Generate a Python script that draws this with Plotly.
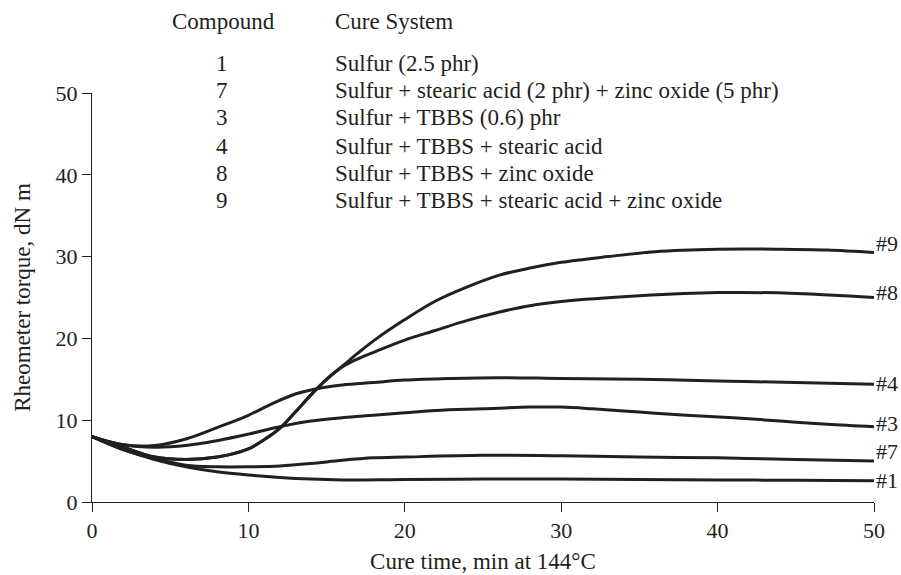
import plotly.graph_objects as go

# Cure time (min) sample points and rheometer torque (dN m) for each compound
t1 = [0, 2, 4, 6, 8, 10, 12, 14, 16, 20, 25, 30, 35, 40, 45, 50]
c1 = [8.0, 6.4, 5.2, 4.3, 3.7, 3.3, 3.0, 2.8, 2.7, 2.75, 2.8, 2.8, 2.75, 2.7, 2.65, 2.6]

t7 = [0, 2, 4, 6, 8, 10, 12, 14, 16, 18, 20, 25, 30, 35, 40, 45, 50]
c7 = [8.0, 6.4, 5.3, 4.5, 4.3, 4.3, 4.4, 4.7, 5.1, 5.4, 5.5, 5.7, 5.65, 5.5, 5.4, 5.2, 5.0]

t3 = [0, 2, 4, 6, 8, 10, 12, 14, 16, 18, 20, 22, 25, 28, 30, 32, 35, 38, 41, 44, 47, 50]
c3 = [8.0, 7.0, 6.7, 6.9, 7.5, 8.3, 9.2, 9.9, 10.3, 10.6, 10.9, 11.2, 11.4, 11.6, 11.6, 11.4,
      11.0, 10.6, 10.3, 9.9, 9.5, 9.2]

t4 = [0, 2, 4, 6, 8, 10, 11.5, 13, 14, 16, 18, 20, 23, 26, 30, 35, 40, 45, 50]
c4 = [8.0, 7.0, 6.9, 7.7, 9.1, 10.6, 12.0, 13.2, 13.7, 14.3, 14.6, 14.9, 15.1, 15.2, 15.1,
      15.0, 14.8, 14.6, 14.4]

t8 = [0, 2, 4, 6, 8, 10, 11, 12, 13, 14, 15, 16, 17, 18, 20, 22, 24, 26, 28, 30, 35, 40, 45, 50]
c8 = [8.0, 6.7, 5.5, 5.2, 5.5, 6.5, 7.6, 9.0, 11.0, 13.1, 15.0, 16.5, 17.5, 18.3, 19.8, 21.0,
      22.2, 23.2, 24.0, 24.5, 25.2, 25.6, 25.5, 25.0]

t9 = [0, 2, 4, 6, 8, 10, 11, 12, 13, 14, 15, 16, 17, 18, 20, 22, 24, 26, 28, 30, 33, 36, 40, 44, 47, 50]
c9 = [8.0, 6.7, 5.5, 5.2, 5.5, 6.5, 7.6, 9.0, 11.0, 13.1, 15.0, 16.6, 18.2, 19.7, 22.3, 24.6,
      26.3, 27.7, 28.6, 29.3, 30.0, 30.6, 30.9, 30.9, 30.8, 30.5]

series = [("#1", t1, c1), ("#7", t7, c7), ("#3", t3, c3),
          ("#4", t4, c4), ("#8", t8, c8), ("#9", t9, c9)]

# Where each end-of-curve tag sits (torque units)
end_tags = ["#9", "#8", "#4", "#3", "#7", "#1"]
end_tag_y = [31.6, 25.6, 14.5, 9.6, 6.2, 2.66]

# Key of compounds and their cure systems
compounds = ["1", "7", "3", "4", "8", "9"]
cure_systems = [
    "Sulfur (2.5 phr)",
    "Sulfur + stearic acid (2 phr) + zinc oxide (5 phr)",
    "Sulfur + TBBS (0.6) phr",
    "Sulfur + TBBS + stearic acid",
    "Sulfur + TBBS + zinc oxide",
    "Sulfur + TBBS + stearic acid + zinc oxide",
]

INK = "#231f20"
FONT = "'Liberation Serif', 'DejaVu Serif', serif"
FS_KEY = 23
FS_TICK = 22
FS_TITLE = 23
FS_TAG = 22

fig = go.Figure()
for name, t, c in series:
    fig.add_trace(go.Scatter(
        x=t, y=c, mode="lines", name=name,
        line=dict(color=INK, width=3, shape="spline", smoothing=1.0),
        showlegend=False, hoverinfo="skip",
    ))

ann = []
for tag, y in zip(end_tags, end_tag_y):
    ann.append(dict(x=50, y=y, xref="x", yref="y", text=tag, showarrow=False,
                    xanchor="left", yanchor="middle", xshift=0,
                    font=dict(family=FONT, size=FS_TAG, color=INK)))

# Header row and key rows (paper coordinates)
row_y = [1.073, 1.005, 0.939, 0.870, 0.802, 0.736]
ann.append(dict(x=0.168, y=1.174, xref="paper", yref="paper", text="Compound",
                showarrow=False, xanchor="center", yanchor="middle",
                font=dict(family=FONT, size=FS_KEY, color=INK)))
ann.append(dict(x=0.308, y=1.174, xref="paper", yref="paper", text="Cure System",
                showarrow=False, xanchor="left", yanchor="middle",
                font=dict(family=FONT, size=FS_KEY, color=INK)))
for num, desc, y in zip(compounds, cure_systems, row_y):
    ann.append(dict(x=0.166, y=y, xref="paper", yref="paper", text=num,
                    showarrow=False, xanchor="center", yanchor="middle",
                    font=dict(family=FONT, size=FS_KEY, color=INK)))
    ann.append(dict(x=0.308, y=y, xref="paper", yref="paper", text=desc,
                    showarrow=False, xanchor="left", yanchor="middle",
                    font=dict(family=FONT, size=FS_KEY, color=INK)))

fig.update_layout(
    width=901, height=575,
    margin=dict(l=92, r=27, t=93, b=73, autoexpand=False),
    paper_bgcolor="white", plot_bgcolor="white",
    font=dict(family=FONT, size=FS_TICK, color=INK),
    annotations=ann,
    xaxis=dict(
        range=[0, 50], tickvals=[0, 10, 20, 30, 40, 50], automargin=False,
        showgrid=False, zeroline=False, showline=True, linecolor=INK, linewidth=1,
        ticks="outside", ticklen=9, tickcolor=INK, tickwidth=1,
        tickfont=dict(family=FONT, size=FS_TICK, color=INK),
        title=dict(text="Cure time, min at 144°C", standoff=10,
                   font=dict(family=FONT, size=FS_TITLE, color=INK)),
    ),
    yaxis=dict(
        range=[0, 50], tickvals=[0, 10, 20, 30, 40, 50], automargin=False,
        showgrid=False, zeroline=False, showline=True, linecolor=INK, linewidth=1,
        ticks="outside", ticklen=9, tickcolor=INK, tickwidth=1,
        tickfont=dict(family=FONT, size=FS_TICK, color=INK),
        title=dict(text="Rheometer torque, dN m", standoff=18,
                   font=dict(family=FONT, size=FS_TITLE, color=INK)),
    ),
)

fig.write_html("out.html")
